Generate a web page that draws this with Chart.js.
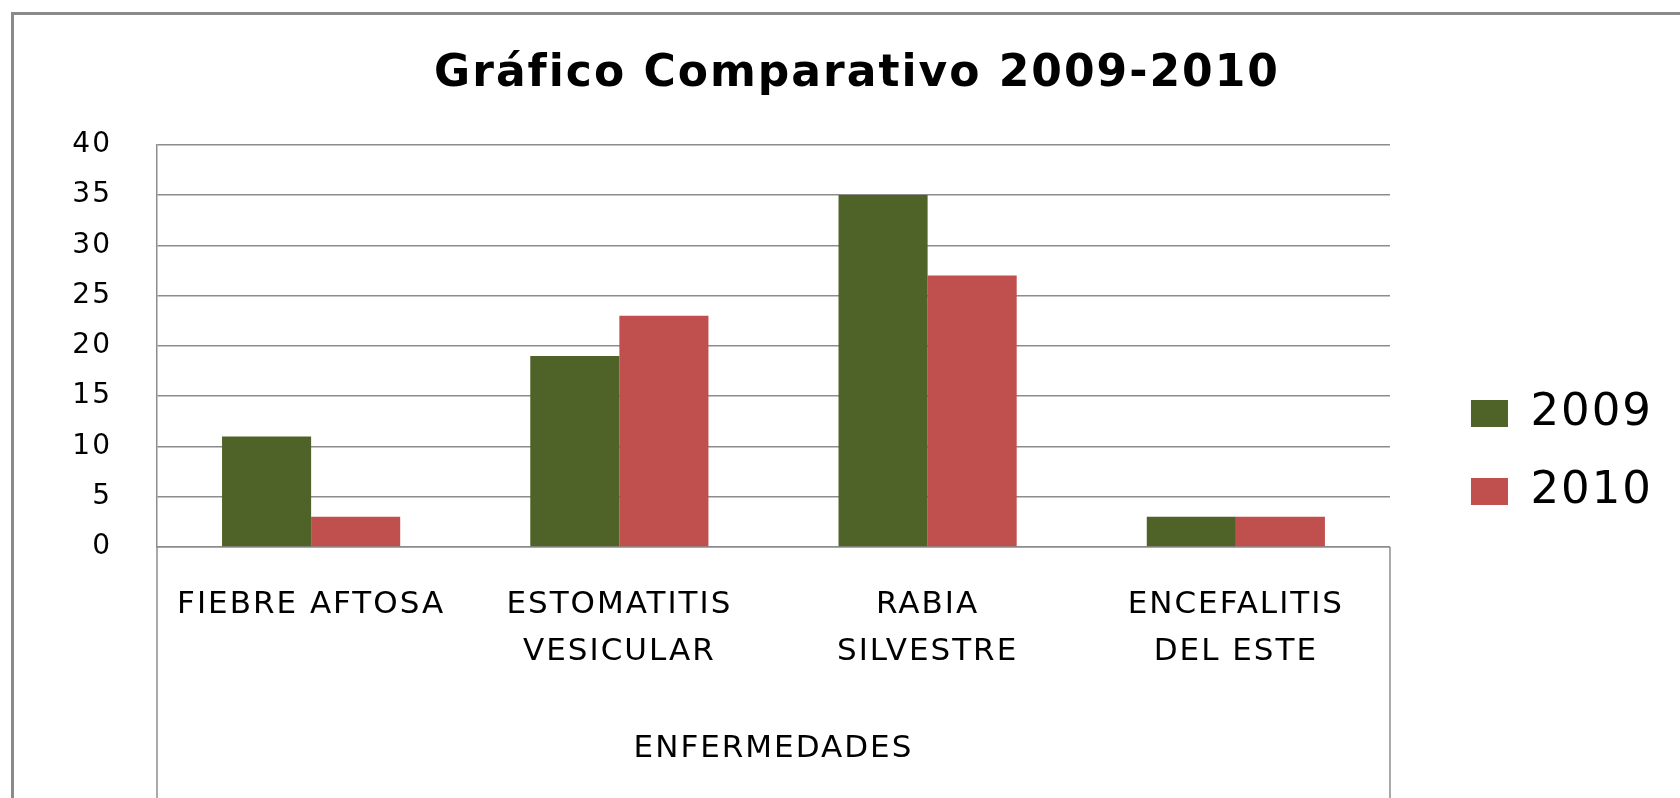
<!DOCTYPE html>
<html>
<head>
<meta charset="utf-8">
<script src="https://cdn.jsdelivr.net/npm/chart.js@4/dist/chart.umd.min.js"></script>
<style>
  html, body { margin: 0; padding: 0; background: #fff; }
  #wrap { position: relative; width: 1680px; height: 798px; }
  #frame { position: absolute; left: 11px; top: 12px; right: 0; bottom: 0;
           border-top: 3px solid #8a8a8a; border-left: 3px solid #8a8a8a; pointer-events: none; }
</style>
</head>
<body>
<div id="wrap">
  <canvas id="enfChart" width="1680" height="798"></canvas>
  <div id="frame"></div>
</div>
<script>
const categories = [
  "FIEBRE AFTOSA",
  ["ESTOMATITIS", "VESICULAR"],
  ["RABIA", "SILVESTRE"],
  ["ENCEFALITIS", "DEL ESTE"]
];
const values2009 = [11, 19, 35, 3];
const values2010 = [3, 23, 27, 3];
const yTicks = [0, 5, 10, 15, 20, 25, 30, 35, 40];

const GRID = "#8c8c8c";

// el original esta estirado a lo ancho: un poco de espaciado entre letras
const wideText = {
  id: "wideText",
  beforeUpdate(chart) { chart.ctx.letterSpacing = "2px"; },
  beforeDraw(chart) { chart.ctx.letterSpacing = "2px"; }
};

// lineas verticales del eje de categorias que bajan hasta el borde
const categoryFrame = {
  id: "categoryFrame",
  afterDraw(chart) {
    const x = chart.scales.x;
    const ctx = chart.ctx;
    ctx.save();
    ctx.strokeStyle = GRID;
    ctx.lineWidth = 1.5;
    [x.left, x.right].forEach(px => {
      ctx.beginPath();
      ctx.moveTo(px, x.top);
      ctx.lineTo(px, chart.height);
      ctx.stroke();
    });
    ctx.restore();
  }
};

const ctx = document.getElementById("enfChart").getContext("2d");
const chart = new Chart(ctx, {
  type: "bar",
  data: {
    labels: categories,
    datasets: [
      { label: "2009", data: values2009, backgroundColor: "#4F6228", borderWidth: 0 },
      { label: "2010", data: values2010, backgroundColor: "#C0504D", borderWidth: 0 }
    ]
  },
  options: {
    responsive: false,
    animation: false,
    categoryPercentage: 0.578,
    barPercentage: 1.0,
    layout: { padding: { left: 51, right: 17, top: 0, bottom: 0 } },
    scales: {
      x: {
        grid: { display: false },
        border: { display: true, color: GRID, width: 1.5 },
        ticks: {
          color: "#000",
          padding: 27,
          maxRotation: 0,
          autoSkip: false,
          font: { family: "DejaVu Sans", size: 31, lineHeight: 1.5 }
        },
        title: {
          display: true,
          text: "ENFERMEDADES",
          color: "#000",
          padding: { top: 0, bottom: 30 },
          font: { family: "DejaVu Sans", size: 31, lineHeight: 1.2 }
        },
        afterFit(scale) { scale.height = 251; }
      },
      y: {
        min: 0,
        max: 40,
        afterBuildTicks(scale) { scale.ticks = yTicks.map(v => ({ value: v })); },
        grid: { color: GRID, lineWidth: 1.5, drawTicks: false },
        border: { display: true, color: GRID, width: 1.5 },
        ticks: {
          color: "#000",
          padding: 45,
          font: { family: "DejaVu Sans", size: 28 }
        },
        afterFit(scale) { scale.width = 106; }
      },
      gap: {
        type: "linear",
        position: "right",
        display: true,
        grid: { display: false },
        border: { display: false },
        ticks: { display: false },
        afterFit(scale) { scale.width = 48; }
      }
    },
    plugins: {
      title: {
        display: true,
        text: "Gráfico Comparativo 2009-2010",
        color: "#000",
        padding: { top: 48, bottom: 44 },
        font: { family: "DejaVu Sans", size: 44, weight: "bold", lineHeight: 1.2 }
      },
      legend: {
        position: "right",
        align: "end",
        fullSize: false,
        labels: {
          color: "#000",
          boxWidth: 37,
          boxHeight: 27,
          padding: 33,
          font: { family: "DejaVu Sans", size: 45 }
        }
      },
      tooltip: { enabled: false }
    }
  },
  plugins: [wideText, categoryFrame]
});
</script>
</body>
</html>
